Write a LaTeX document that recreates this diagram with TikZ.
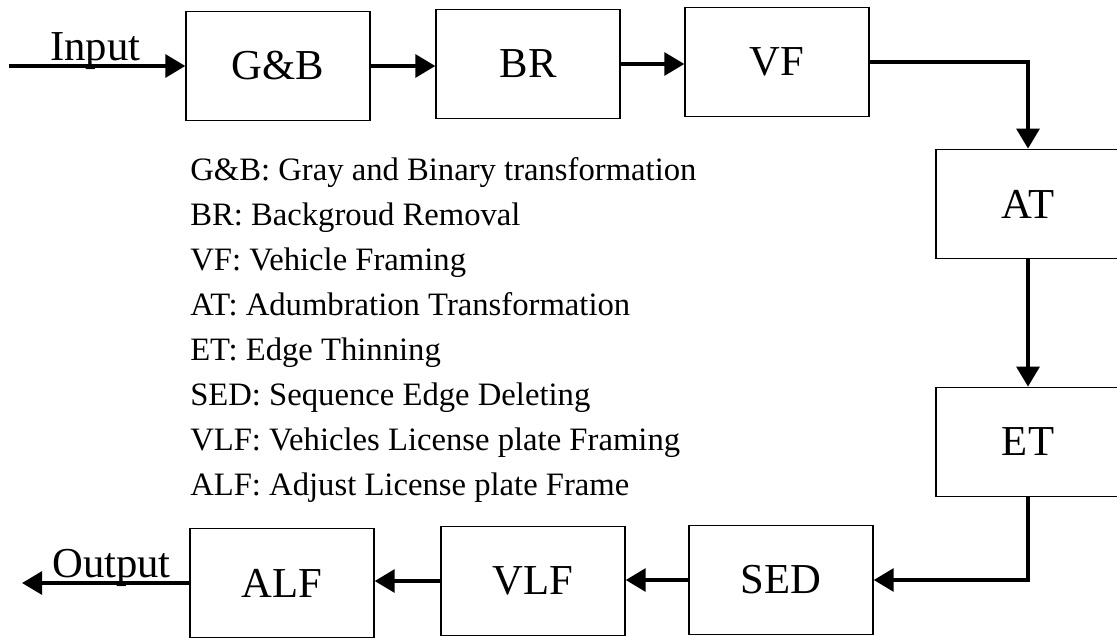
\documentclass[tikz,border=0pt]{standalone}
\usepackage{fontspec}
\setmainfont{Liberation Serif}
\usetikzlibrary{arrows.meta}
\tikzset{
  blk/.style={draw, line width=1pt, minimum width=138pt, minimum height=82pt, inner sep=0pt,
              font=\fontsize{32}{38}\selectfont},
  arr/.style={line width=3pt, -{Triangle[length=15pt,width=17pt]}},
  lbl/.style={inner sep=0pt, font=\fontsize{32}{38}\selectfont},
  leg/.style={inner sep=0pt, anchor=base west, font=\fontsize{24.5}{29}\selectfont}
}
\begin{document}
\begin{tikzpicture}[x=0.75pt,y=-0.75pt]
\useasboundingbox (0,0) rectangle (1117,642);
\clip (0,0) rectangle (1117,642);
% blocks
\node[blk] (gb)  at (278,66)  {G\&B};
\node[blk] (br)  at (528,64)  {BR};
\node[blk] (vf)  at (777,62)  {VF};
\node[blk] (at)  at (1028,204) {AT};
\node[blk] (et)  at (1028,442) {ET};
\node[blk] (sed) at (781,580) {SED};
\node[blk] (vlf) at (533,581) {VLF};
\node[blk] (alf) at (282,583) {ALF};
% free ends
\coordinate (in)  at (9,66);
\coordinate (out) at (22,583);
% labels
\node[lbl, anchor=base west] (inl)  at (50,61)  {Input};
\node[lbl, anchor=base west] (outl) at (52,577) {Output};
% connectors
\draw[arr] (in) -- (gb.west);
\draw[arr] (gb.east) -- (gb.east -| br.west);
\draw[arr] (br.east) -- (br.east -| vf.west);
\draw[arr] (vf.east) -| (at.north);
\draw[arr] (at.south) -- (et.north);
\draw[arr] (et.south) |- (sed.east);
\draw[arr] (sed.west) -- (sed.west -| vlf.east);
\draw[arr] (vlf.west) -- (vlf.west -| alf.east);
\draw[arr] (alf.west) -- (out);
% legend
\node[leg] (l1) at (190,180) {G\&B: Gray and Binary transformation};
\node[leg] (l2) at (190,225) {BR: Backgroud Removal};
\node[leg] (l3) at (190,270) {VF: Vehicle Framing};
\node[leg] (l4) at (190,315) {AT: Adumbration Transformation};
\node[leg] (l5) at (190,360) {ET: Edge Thinning};
\node[leg] (l6) at (190,405) {SED: Sequence Edge Deleting};
\node[leg] (l7) at (190,450) {VLF: Vehicles License plate Framing};
\node[leg] (l8) at (190,495) {ALF: Adjust License plate Frame};
\end{tikzpicture}
\end{document}
